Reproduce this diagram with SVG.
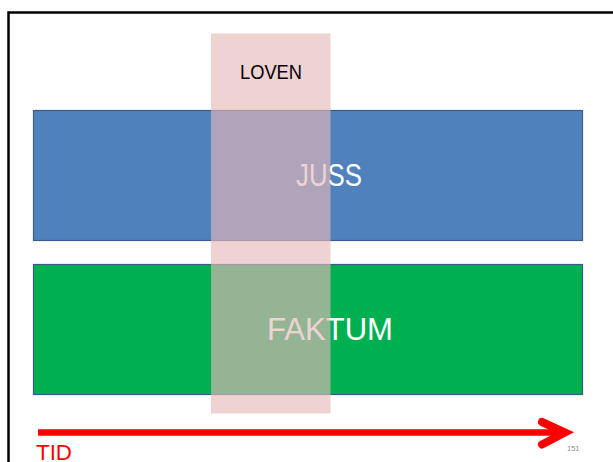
<svg xmlns="http://www.w3.org/2000/svg" width="613" height="462" viewBox="0 0 613 462">
  <style>
    .lbl { font-family: "Liberation Sans", Arial, sans-serif; }
    .band { stroke: #385D8A; stroke-width: 1.2; }
    .big { font-size: 31px; fill: #FFFFFF; }
  </style>
  <rect x="0" y="0" width="613" height="462" fill="#FFFFFF"/>
  <rect x="8.5" y="12.5" width="620" height="470" fill="none" stroke="#000000" stroke-width="2.5"/>
  <g id="juss">
    <rect class="band" x="33.5" y="110.5" width="549" height="130" fill="#4F81BD"/>
    <text class="lbl big" x="296" y="186" textLength="66" lengthAdjust="spacingAndGlyphs">JUSS</text>
  </g>
  <g id="faktum">
    <rect class="band" x="33.5" y="264.5" width="549" height="130" fill="#00B050"/>
    <text class="lbl big" x="267" y="340" textLength="126" lengthAdjust="spacingAndGlyphs">FAKTUM</text>
  </g>
  <g id="loven">
    <rect x="211" y="33.5" width="119.5" height="380" fill="#E6B9B8" fill-opacity="0.64"/>
    <text class="lbl" x="240" y="79" font-size="20" fill="#000000" textLength="62" lengthAdjust="spacingAndGlyphs">LOVEN</text>
  </g>
  <g id="connectors">
    <line x1="38" y1="432.5" x2="563" y2="432.5" stroke="#FF0000" stroke-width="6.5"/>
    <polyline points="542,422 565,432.5 542,444.5" fill="none" stroke="#FF0000" stroke-width="8" stroke-linecap="round" stroke-linejoin="miter"/>
  </g>
  <g id="tid">
    <text class="lbl" x="36" y="460" font-size="22" fill="#FF0000" textLength="36" lengthAdjust="spacingAndGlyphs">TID</text>
  </g>
  <text class="lbl" x="567" y="451" font-size="7.5" fill="#8C8C8C">151</text>
</svg>
